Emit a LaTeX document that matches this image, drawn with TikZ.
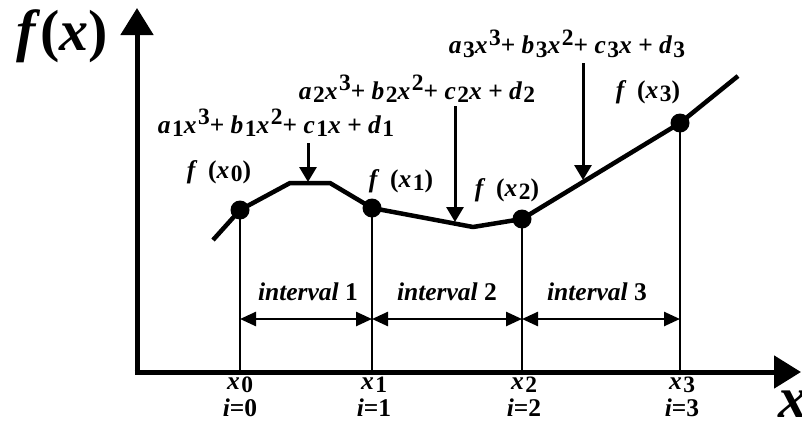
\documentclass[tikz,border=0pt]{standalone}
\usepackage{fontspec}
\setmainfont{Liberation Serif}
\newfontfamily\tbi{Liberation Serif Bold Italic}
\newfontfamily\tbf{Liberation Serif Bold}
\usetikzlibrary{arrows.meta}
\newcommand\lo[1]{\kern1.5pt\raisebox{-0.3ex}{\tbf\scalebox{0.92}{#1}}}
\newcommand\hi[1]{\kern1.5pt\raisebox{0.7ex}{\tbf\scalebox{0.92}{#1}}}
\newcommand\up[1]{{\tbf #1}}
\tikzset{
  lbl/.style={font=\tbi\fontsize{25.5}{25.5}\selectfont, inner sep=0pt},
  big/.style={font=\tbi\fontsize{58}{58}\selectfont, inner sep=0pt},
  axis/.style={line width=5pt, -{Triangle[length=27pt,width=32pt]}},
  curve/.style={line width=4.5pt, line join=round},
  dot/.style={circle, fill=black, minimum size=19pt, inner sep=0pt},
  vline/.style={line width=2.5pt},
  down/.style={line width=3pt, -{Triangle[length=15pt,width=17pt]}},
  span/.style={line width=2.5pt, {Triangle[length=16pt,width=14pt]}-{Triangle[length=16pt,width=14pt]}}
}
\begin{document}
\begin{tikzpicture}[x=1pt,y=-1pt]
\useasboundingbox (0,0) rectangle (802,423);
% axes
\coordinate (O) at (137,372);
\coordinate (Ytop) at (137,8);
\coordinate (Xend) at (801,372);
\draw[axis] (O) -- (Ytop);
\draw[axis] ([xshift=-2.5pt]O) -- (Xend);
\node[big] (fx) at (62,36) {f\kern5pt\up{(}x\up{)}};
\node[big, anchor=west] (xl) at (778,404) {x};
% curve points
\coordinate (c0) at (213,240);
\coordinate (p0) at (240,210);
\coordinate (k1) at (290,183);
\coordinate (k2) at (330,183);
\coordinate (p1) at (372,208);
\coordinate (m) at (473,227);
\coordinate (p2) at (522,219);
\coordinate (p3) at (680,123);
\coordinate (c4) at (738,76);
\draw[curve] (c0) -- (p0) -- (k1) -- (k2) -- (p1) -- (m) -- (p2) -- (p3) -- (c4);
% vertical lines
\coordinate (b0) at (240,372);
\coordinate (b1) at (372,372);
\coordinate (b2) at (522,372);
\coordinate (b3) at (680,372);
\draw[vline] (p0) -- (b0);
\draw[vline] (p1) -- (b1);
\draw[vline] (p2) -- (b2);
\draw[vline] (p3) -- (b3);
\node[dot] (d0) at (p0) {};
\node[dot] (d1) at (p1) {};
\node[dot] (d2) at (p2) {};
\node[dot] (d3) at (p3) {};
% point labels
\node[lbl] (f0) at (219,172) {f \ \up{(}x\lo{0}\up{)}};
\node[lbl] (f1) at (401,181) {f \ \up{(}x\lo{1}\up{)}};
\node[lbl] (f2) at (507,190) {f \ \up{(}x\lo{2}\up{)}};
\node[lbl] (f3) at (648,92) {f \ \up{(}x\lo{3}\up{)}};
% polynomials
\node[lbl] (e1) at (276,123) {a\lo{1}x\hi{3}\up{+} b\lo{1}x\hi{2}\up{+} c\lo{1}x \up{+} d\lo{1}};
\node[lbl] (e2) at (417,89) {a\lo{2}x\hi{3}\up{+} b\lo{2}x\hi{2}\up{+} c\lo{2}x \up{+} d\lo{2}};
\node[lbl] (e3) at (567,44) {a\lo{3}x\hi{3}\up{+} b\lo{3}x\hi{2}\up{+} c\lo{3}x \up{+} d\lo{3}};
\coordinate (s1) at (308,143);
\coordinate (t1) at (308,182);
\coordinate (s2) at (455,106);
\coordinate (t2) at (455,222);
\coordinate (s3) at (583,63);
\coordinate (t3) at (583,180);
\draw[down] (s1) -- (t1);
\draw[down] (s2) -- (t2);
\draw[down] (s3) -- (t3);
% intervals
\coordinate (i0) at (240,319);
\coordinate (i1) at (372,319);
\coordinate (i2) at (522,319);
\coordinate (i3) at (680,319);
\draw[span] (i0) -- (i1);
\draw[span] (i1) -- (i2);
\draw[span] (i2) -- (i3);
\node[lbl] (n1) at (308,292) {interval \up{1}};
\node[lbl] (n2) at (447,292) {interval \up{2}};
\node[lbl] (n3) at (597,292) {interval \up{3}};
% bottom labels
\node[lbl] (x0) at (240,385) {x\lo{0}};
\node[lbl] (x1) at (374,385) {x\lo{1}};
\node[lbl] (x2) at (524,385) {x\lo{2}};
\node[lbl] (x3) at (682,385) {x\lo{3}};
\node[lbl] (i0l) at (240,408) {i\up{=0}};
\node[lbl] (i1l) at (374,408) {i\up{=1}};
\node[lbl] (i2l) at (524,408) {i\up{=2}};
\node[lbl] (i3l) at (682,408) {i\up{=3}};
\end{tikzpicture}
\end{document}
